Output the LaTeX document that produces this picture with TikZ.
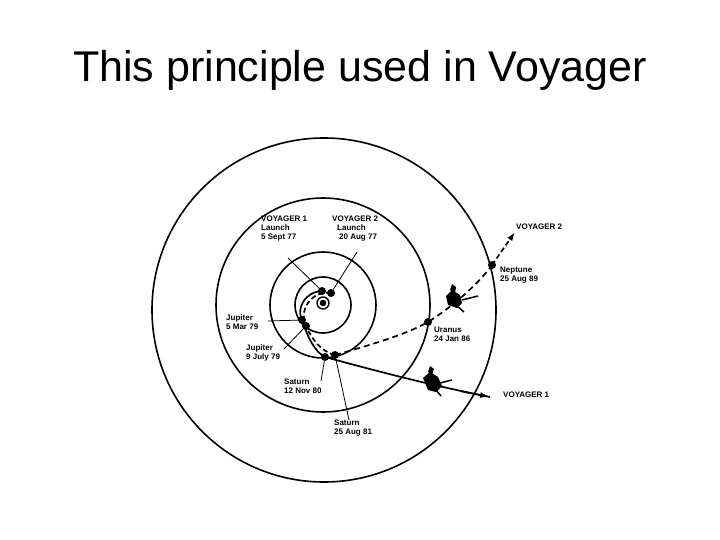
\documentclass[tikz,border=0pt]{standalone}
\usepackage{fontspec}
\setmainfont{Liberation Sans}
\usetikzlibrary{arrows.meta}
\begin{document}
\begin{tikzpicture}[x=1pt,y=-1pt,
  orbit/.style={line width=1.6pt},
  lbl/.style={font=\fontsize{8}{9}\selectfont\bfseries, align=left, inner sep=0pt, anchor=north west},
  lead/.style={line width=0.8pt},
  planet/.style={circle, fill=black, inner sep=0pt, minimum size=8pt},
  traj/.style={line width=1.7pt},
  craft/.style={fill=black}]
\useasboundingbox (0,0) rectangle (720,540);
\node (title) at (360,70) {\fontsize{43}{48}\selectfont This principle used in Voyager};
% orbits
\coordinate (c) at (323,305);
\draw[orbit] (c) circle (28);
\draw[orbit] (c) circle (53);
\draw[orbit] (c) circle (107);
\draw[orbit] (324,310) circle (172);
% sun
\draw[line width=1.4pt] (323,303) circle (6);
\fill (323,303) circle (3.3);
% points
\node[planet] (v1l) at (322,291) {};
\node[planet] (v2l) at (331,293) {};
\node[planet] (j1) at (302,320) {};
\node[planet] (j2) at (306,326) {};
\node[planet] (s1) at (325,357) {};
\node[planet] (s2) at (335,355) {};
\node[planet] (ur) at (428,322) {};
\node[planet] (ne) at (492,265) {};
\coordinate (e1) at (490,397);
\coordinate (e2) at (515,232);
% trajectories
\draw[traj] (v1l.center) .. controls (305,292) and (296,308) .. (j1.center) .. controls (308,338) and (315,352) .. (s1.center);
\draw[traj] (s1.center) .. controls (380,372) and (430,385) .. (e1);
\draw[traj,-{Latex[length=10pt,width=6pt]}] (460,391) -- (e1);
\draw[traj,dash pattern=on 5pt off 3pt] (v2l.center) .. controls (312,290) and (298,310) .. (j2.center) .. controls (312,340) and (322,352) .. (s2.center);
\draw[traj,dash pattern=on 6pt off 4pt] (s2.center) .. controls (370,345) and (405,335) .. (ur.center) .. controls (455,305) and (480,282) .. (ne.center);
\draw[traj,dash pattern=on 5pt off 3pt,-{Latex[length=9pt,width=6pt]}] (ne.center) -- (e2);
% spacecraft
\fill[craft] (423,378) -- (430,372) -- (438,377) -- (442,386) -- (436,392) -- (428,390) -- cycle;
\fill[craft] (428,372) -- (430,366) -- (434,369) -- (432,375) -- cycle;
\draw[line width=1.5pt] (440,383) -- (452,380);
\draw[line width=1.5pt] (436,390) -- (441,396);
\fill[craft] (446,296) -- (452,290) -- (460,295) -- (462,303) -- (457,308) -- (448,305) -- cycle;
\fill[craft] (450,290) -- (452,284) -- (456,287) -- (455,293) -- cycle;
\draw[line width=1.5pt] (462,300) -- (478,296);
\draw[line width=1.5pt] (457,306) -- (464,312);
% labels
\node[lbl] (t1) at (261,216) {VOYAGER 1\\Launch\\5 Sept 77};
\node[lbl] (t2) at (332,216) {VOYAGER 2\\\hspace*{5pt}Launch\\\hspace*{7pt}20 Aug 77};
\node[lbl] (tj1) at (226,315) {Jupiter\\5 Mar 79};
\node[lbl] (tj2) at (246,345) {Jupiter\\9 July 79};
\node[lbl] (ts1) at (284,379) {Saturn\\12 Nov 80};
\node[lbl] (ts2) at (334,420) {Saturn\\25 Aug 81};
\node[lbl] (tu) at (434,327) {Uranus\\24 Jan 86};
\node[lbl] (tn) at (500,267) {Neptune\\25 Aug 89};
\node[lbl] (tv2) at (516,224) {VOYAGER 2};
\node[lbl] (tv1) at (503,392) {VOYAGER 1};
% leaders
\coordinate (a1) at (288,258); \draw[lead] (a1) -- (v1l);
\coordinate (a2) at (357,252); \draw[lead] (a2) -- (v2l);
\coordinate (a3) at (268,321); \draw[lead] (a3) -- (j1);
\coordinate (a4) at (284,349); \draw[lead] (a4) -- (j2);
\coordinate (a5) at (321,381); \draw[lead] (a5) -- (s1);
\coordinate (a6) at (349,420); \draw[lead] (a6) -- (s2);
\end{tikzpicture}
\end{document}
